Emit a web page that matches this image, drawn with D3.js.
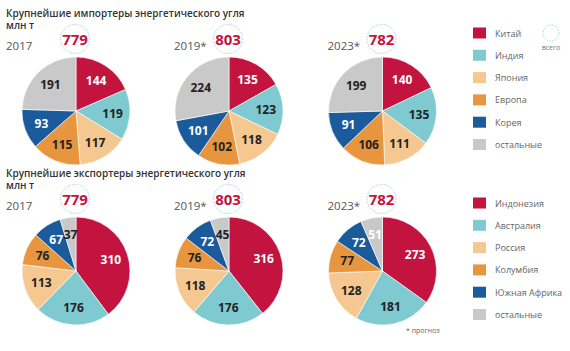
<!DOCTYPE html>
<html><head><meta charset="utf-8">
<script src="https://cdn.jsdelivr.net/npm/d3@7"></script>
<style>body{margin:0;background:#fff}svg{display:block}</style>
</head><body><svg id="c" width="570" height="351"></svg>
<script>
const years = ["2017", "2019*", "2023*"];
const importers = ["Китай", "Индия", "Япония", "Европа", "Корея", "остальные"];
const importValues = [
  [144, 119, 117, 115, 93, 191],
  [135, 123, 118, 102, 101, 224],
  [140, 135, 111, 106, 91, 199]
];
const importTotals = [779, 803, 782];
const exporters = ["Индонезия", "Австралия", "Россия", "Колумбия", "Южная Африка", "остальные"];
const exportValues = [
  [310, 176, 113, 76, 67, 37],
  [316, 176, 118, 76, 72, 45],
  [273, 181, 128, 77, 72, 51]
];
const exportTotals = [779, 803, 782];
const colors = ["#c2143f", "#7fcad1", "#f5c891", "#e8953f", "#1b5b9b", "#c9c9c9"];
const labelColors = ["#fff", "#222", "#222", "#222", "#fff", "#222"];
const importOthersLight = [false, false, false];
const exportOthersLight = [false, false, true];

const svg = d3.select("#c");
const FONT = "'Open Sans', 'Noto Sans', sans-serif";
const R = 54;
const cx = [76, 229, 382.5];

function section(top, title, names, values, totals, othersLight, note) {
  svg.append("text").attr("x", 6).attr("y", top + 16.5).attr("font-family", FONT)
    .attr("font-size", 10).attr("font-weight", 600).attr("fill", "#333").text(title);
  svg.append("text").attr("x", 6).attr("y", top + 29).attr("font-family", FONT)
    .attr("font-size", 10).attr("font-weight", 600).attr("fill", "#333").text("млн т");
  const pie = d3.pie().sort(null).value(d => d);
  const arc = d3.arc().innerRadius(0).outerRadius(R);
  const lab = d3.arc().innerRadius(R * 0.68).outerRadius(R * 0.68);
  values.forEach((vals, i) => {
    const cy = top + 111;
    svg.append("text").attr("x", i === 0 ? 6 : cx[i] - 55).attr("y", top + 50)
      .attr("font-family", FONT).attr("font-size", 11.5).attr("fill", "#555").text(years[i]);
    svg.append("circle").attr("cx", cx[i] - 1).attr("cy", top + 39).attr("r", 14.5)
      .attr("fill", "#fff").attr("stroke", "#8fd0d8").attr("stroke-width", 1)
      .attr("stroke-dasharray", "1.2,1.4");
    svg.append("text").attr("x", cx[i] - 1).attr("y", top + 44.5).attr("text-anchor", "middle")
      .attr("font-family", FONT).attr("font-size", 15).attr("font-weight", 700)
      .attr("fill", "#c2143f").text(totals[i]);
    const g = svg.append("g").attr("transform", `translate(${cx[i]},${cy})`);
    const arcs = pie(vals);
    g.selectAll("path").data(arcs).join("path").attr("d", arc)
      .attr("fill", (d, j) => colors[j]).attr("stroke", "#fff").attr("stroke-width", 0.6);
    g.selectAll("text").data(arcs).join("text")
      .attr("transform", d => `translate(${lab.centroid(d)})`)
      .attr("text-anchor", "middle").attr("dy", "0.36em")
      .attr("font-family", FONT).attr("font-size", 12).attr("font-weight", 700)
      .attr("fill", (d, j) => (j === 5 && othersLight[i]) ? "#fff" : labelColors[j])
      .text(d => d.data);
  });
  const lg = svg.append("g");
  names.forEach((n, j) => {
    const y = top + (note ? 43 : 33) + j * 22.3;
    lg.append("rect").attr("x", 473).attr("y", y - 5.5).attr("width", 13).attr("height", 11)
      .attr("fill", colors[j]);
    lg.append("text").attr("x", 495).attr("y", y + 3.5).attr("font-family", FONT)
      .attr("font-size", 9).attr("fill", "#666").text(n);
  });
}

section(0, "Крупнейшие импортеры энергетического угля", importers, importValues, importTotals, importOthersLight, false);
section(160, "Крупнейшие экспортеры энергетического угля", exporters, exportValues, exportTotals, exportOthersLight, true);

svg.append("circle").attr("cx", 551).attr("cy", 33).attr("r", 8).attr("fill", "none")
  .attr("stroke", "#8fd0d8").attr("stroke-width", 1).attr("stroke-dasharray", "1.2,1.4");
svg.append("text").attr("x", 551).attr("y", 50).attr("text-anchor", "middle")
  .attr("font-family", FONT).attr("font-size", 7).attr("fill", "#777").text("всего");
svg.append("text").attr("x", 406).attr("y", 333).attr("font-family", FONT)
  .attr("font-size", 7).attr("fill", "#666").text("* прогноз");
</script></body></html>
